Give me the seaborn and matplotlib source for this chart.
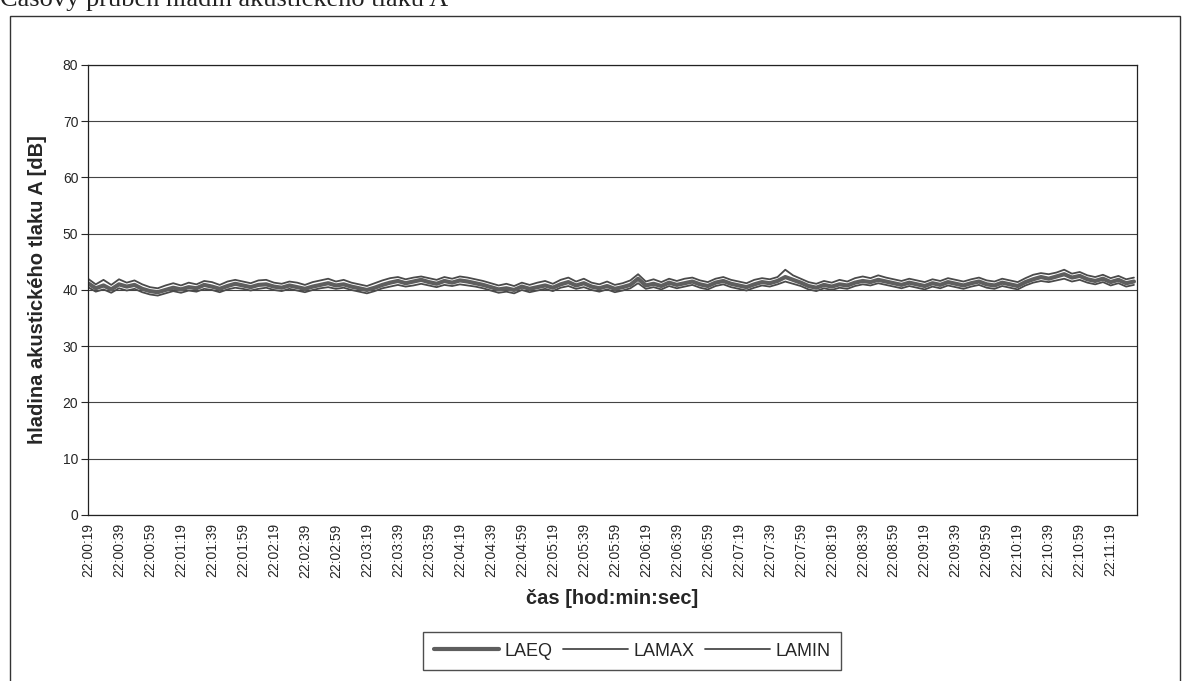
import numpy as np
import pandas as pd
import matplotlib
matplotlib.use("Agg")
import matplotlib.pyplot as plt
from matplotlib.patches import Rectangle
import seaborn as sns

# hladiny akustickeho tlaku A [dB], odecteno po 5 s od 22:00:19
step_s = 5
laeq = [41.2, 40.3, 40.8, 40.1, 41.0, 40.6, 40.9, 40.2, 39.8,
        39.6, 40.0, 40.4, 40.1,
        40.5, 40.3, 40.9, 40.6, 40.2, 40.7, 41.1, 40.8, 40.5, 40.9, 41.0, 40.6,
        40.4, 40.8, 40.5, 40.2, 40.6, 40.9, 41.2, 40.8, 41.0, 40.6, 40.3, 40.0,
        40.4, 40.9, 41.3, 41.6, 41.2, 41.5, 41.8, 41.4, 41.1, 41.6, 41.3, 41.7, 41.5, 41.2, 40.9, 40.5,
        40.1, 40.3, 40.0, 40.6, 40.2, 40.5, 40.8, 40.4,
        41.0, 41.4, 40.8, 41.2, 40.6, 40.3, 40.7, 40.2,
        40.5, 40.9, 42.0, 40.8, 41.1, 40.7, 41.3, 40.9, 41.2, 41.5, 41.0, 40.7,
        41.3, 41.6, 41.1, 40.8, 40.5, 41.0, 41.4, 41.2, 41.6, 42.3, 41.8, 41.3,
        40.7, 40.4, 40.9, 40.6, 41.0, 40.8, 41.3, 41.6, 41.4, 41.8, 41.5, 41.2,
        40.9, 41.3, 41.0, 40.7, 41.2, 40.9, 41.4, 41.1, 40.8, 41.2, 41.5, 41.0,
        40.8, 41.3, 41.0, 40.7, 41.4, 41.9, 42.3, 42.0, 42.4, 42.8, 42.2, 42.5,
        41.9, 41.6, 42.0, 41.4, 41.8, 41.2, 41.5]
lamax = [42.0, 41.0, 41.8, 40.9, 41.9, 41.3, 41.7, 41.0, 40.5,
         40.3, 40.8, 41.2, 40.8,
         41.3, 41.0, 41.6, 41.4, 40.9, 41.5, 41.8, 41.5, 41.2, 41.7, 41.8, 41.3,
         41.1, 41.5, 41.3, 40.9, 41.4, 41.7, 42.0, 41.5, 41.8, 41.3, 41.0, 40.7,
         41.2, 41.7, 42.1, 42.3, 41.9, 42.2, 42.4, 42.1, 41.8, 42.3, 42.0, 42.4, 42.2, 41.9, 41.6, 41.2,
         40.8, 41.1, 40.7, 41.3, 40.9, 41.3, 41.6, 41.1,
         41.8, 42.2, 41.5, 42.0, 41.3, 41.0, 41.5, 40.9,
         41.2, 41.7, 42.8, 41.5, 41.9, 41.4, 42.0, 41.6, 42.0, 42.2, 41.7, 41.4,
         42.0, 42.3, 41.8, 41.5, 41.2, 41.8, 42.1, 41.9, 42.3, 43.6, 42.6, 42.0,
         41.4, 41.1, 41.6, 41.3, 41.8, 41.5, 42.1, 42.4, 42.1, 42.6, 42.2, 41.9,
         41.6, 42.0, 41.7, 41.4, 41.9, 41.6, 42.1, 41.8, 41.5, 41.9, 42.2, 41.7,
         41.5, 42.0, 41.7, 41.4, 42.1, 42.7, 43.0, 42.8, 43.1, 43.6, 42.9, 43.2,
         42.6, 42.3, 42.7, 42.1, 42.5, 41.9, 42.2]
lamin = [40.5, 39.7, 40.1, 39.5, 40.3, 39.9, 40.2, 39.6, 39.2,
         39.0, 39.4, 39.8, 39.5,
         39.9, 39.7, 40.2, 40.0, 39.6, 40.1, 40.4, 40.2, 39.9, 40.2, 40.4, 40.0,
         39.8, 40.2, 39.9, 39.6, 40.0, 40.3, 40.5, 40.2, 40.4, 40.0, 39.7, 39.4,
         39.8, 40.3, 40.6, 40.9, 40.6, 40.8, 41.1, 40.8, 40.5, 40.9, 40.7, 41.0, 40.8, 40.6, 40.3, 39.9,
         39.5, 39.7, 39.4, 40.0, 39.6, 39.9, 40.2, 39.8,
         40.4, 40.7, 40.2, 40.5, 40.0, 39.7, 40.1, 39.6,
         39.9, 40.3, 41.2, 40.2, 40.5, 40.1, 40.7, 40.3, 40.6, 40.9, 40.4, 40.1,
         40.7, 41.0, 40.5, 40.2, 39.9, 40.4, 40.8, 40.6, 41.0, 41.5, 41.1, 40.7,
         40.1, 39.8, 40.3, 40.0, 40.4, 40.2, 40.7, 41.0, 40.8, 41.2, 40.9, 40.6,
         40.3, 40.7, 40.4, 40.1, 40.6, 40.3, 40.8, 40.5, 40.2, 40.6, 40.9, 40.4,
         40.2, 40.7, 40.4, 40.1, 40.8, 41.3, 41.6, 41.4, 41.7, 42.0, 41.5, 41.8,
         41.3, 41.0, 41.4, 40.8, 41.2, 40.6, 40.9]

time_labels = ["22:00:19", "22:00:39", "22:00:59", "22:01:19", "22:01:39", "22:01:59",
               "22:02:19", "22:02:39", "22:02:59", "22:03:19", "22:03:39", "22:03:59",
               "22:04:19", "22:04:39", "22:04:59", "22:05:19", "22:05:39", "22:05:59",
               "22:06:19", "22:06:39", "22:06:59", "22:07:19", "22:07:39", "22:07:59",
               "22:08:19", "22:08:39", "22:08:59", "22:09:19", "22:09:39", "22:09:59",
               "22:10:19", "22:10:39", "22:10:59", "22:11:19"]
label_step_s = 20

sec = np.arange(len(laeq)) * step_s
df = pd.DataFrame({"t": sec, "LAEQ": laeq, "LAMAX": lamax, "LAMIN": lamin})

sns.set_style("white")
plt.rcParams["font.family"] = ["Liberation Sans", "DejaVu Sans"]

fig = plt.figure(figsize=(11.86, 6.81), dpi=100)
ax = fig.add_axes([0.0742, 0.2438, 0.8845, 0.6608])

sns.lineplot(data=df, x="t", y="LAMAX", ax=ax, color="#4a4a4a", linewidth=1.3, label="LAMAX")
sns.lineplot(data=df, x="t", y="LAMIN", ax=ax, color="#4a4a4a", linewidth=1.3, label="LAMIN")
sns.lineplot(data=df, x="t", y="LAEQ", ax=ax, color="#5e5e5e", linewidth=3.0, label="LAEQ")

ax.set_ylim(0, 80)
ax.set_xlim(0, 677)
ax.set_yticks(range(0, 81, 10))
ax.yaxis.grid(True, color="#444444", linewidth=0.8)
ax.set_axisbelow(True)
ax.set_xticks(np.arange(len(time_labels)) * label_step_s)
ax.set_xticklabels(time_labels, rotation=90, fontsize=10)
ax.tick_params(axis="y", labelsize=10, length=5, width=0.8, direction="out", left=True, pad=2)
ax.tick_params(axis="x", length=0, pad=6)
for s in ax.spines.values():
    s.set_color("#222222")
    s.set_linewidth(0.9)

ax.set_ylabel("hladina akustického tlaku A [dB]", fontsize=14.5, fontweight="bold", labelpad=11)
ax.set_xlabel("čas [hod:min:sec]", fontsize=14.5, fontweight="bold", labelpad=8)

# poradi v legende jako v originale
h, l = ax.get_legend_handles_labels()
order = [l.index("LAEQ"), l.index("LAMAX"), l.index("LAMIN")]
leg = ax.legend([h[i] for i in order], [l[i] for i in order],
                loc="center", bbox_to_anchor=(0.533, 0.044), bbox_transform=fig.transFigure,
                ncol=3, frameon=True, fancybox=False, fontsize=13, handlelength=3.6,
                handletextpad=0.3, columnspacing=0.6, borderpad=0.6)
leg.get_frame().set_edgecolor("#222222")
leg.get_frame().set_linewidth(1.0)

# ramecek grafu a orezany nadpis
fig.patches.append(Rectangle((10 / 1186, -0.05), 1170 / 1186, 1 - 16 / 681 + 0.05,
                             transform=fig.transFigure, fill=False,
                             edgecolor="#333333", linewidth=1.0))
fig.text(0.0, 1 - 6 / 681, "Časový průběh hladin akustického tlaku A", fontsize=19,
         family=["Liberation Serif", "DejaVu Serif"], va="baseline", ha="left", color="#222222")

fig.savefig("out.png", dpi=100)
